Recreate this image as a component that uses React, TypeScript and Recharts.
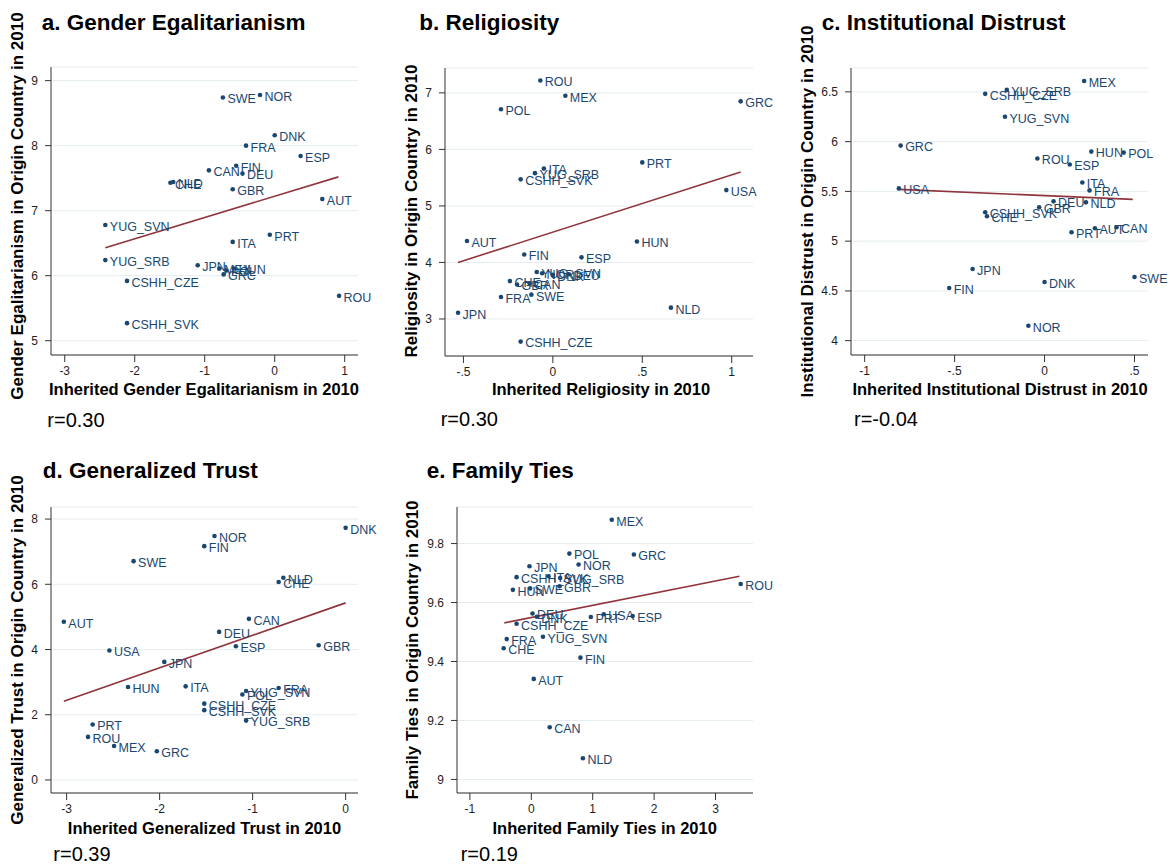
import React from "react";
import {
  ScatterChart,
  Scatter,
  XAxis,
  YAxis,
  CartesianGrid,
  ReferenceLine,
} from "recharts";

type Pt = { c: string; x: number; y: number };

// a. Gender egalitarianism
const genderEgal: Pt[] = [
  { c: "SWE", x: -0.74, y: 8.74 },
  { c: "NOR", x: -0.21, y: 8.78 },
  { c: "DNK", x: 0.0, y: 8.16 },
  { c: "FRA", x: -0.41, y: 8.0 },
  { c: "ESP", x: 0.37, y: 7.84 },
  { c: "FIN", x: -0.55, y: 7.69 },
  { c: "CAN", x: -0.94, y: 7.62 },
  { c: "DEU", x: -0.46, y: 7.57 },
  { c: "CHE", x: -1.49, y: 7.43 },
  { c: "NLD", x: -1.45, y: 7.44 },
  { c: "GBR", x: -0.6, y: 7.33 },
  { c: "AUT", x: 0.68, y: 7.18 },
  { c: "YUG_SVN", x: -2.42, y: 6.78 },
  { c: "PRT", x: -0.07, y: 6.63 },
  { c: "ITA", x: -0.6, y: 6.52 },
  { c: "YUG_SRB", x: -2.42, y: 6.24 },
  { c: "JPN", x: -1.1, y: 6.16 },
  { c: "MEX", x: -0.79, y: 6.11 },
  { c: "POL", x: -0.69, y: 6.08 },
  { c: "HUN", x: -0.58, y: 6.11 },
  { c: "GRC", x: -0.73, y: 6.02 },
  { c: "CSHH_CZE", x: -2.11, y: 5.92 },
  { c: "ROU", x: 0.92, y: 5.69 },
  { c: "CSHH_SVK", x: -2.11, y: 5.27 },
];
const fitGender = [{ x: -2.42, y: 6.43 }, { x: 0.91, y: 7.52 }];

// b. Religiosity
const religiosity: Pt[] = [
  { c: "ROU", x: -0.07, y: 7.22 },
  { c: "MEX", x: 0.07, y: 6.95 },
  { c: "GRC", x: 1.05, y: 6.85 },
  { c: "POL", x: -0.29, y: 6.71 },
  { c: "PRT", x: 0.5, y: 5.77 },
  { c: "ITA", x: -0.05, y: 5.66 },
  { c: "YUG_SRB", x: -0.1, y: 5.58 },
  { c: "CSHH_SVK", x: -0.18, y: 5.47 },
  { c: "USA", x: 0.97, y: 5.28 },
  { c: "AUT", x: -0.48, y: 4.38 },
  { c: "HUN", x: 0.47, y: 4.37 },
  { c: "FIN", x: -0.16, y: 4.14 },
  { c: "ESP", x: 0.16, y: 4.09 },
  { c: "YUG_SVN", x: -0.09, y: 3.83 },
  { c: "NOR", x: -0.06, y: 3.81 },
  { c: "DNK", x: 0.0, y: 3.78 },
  { c: "DEU", x: 0.09, y: 3.79 },
  { c: "CHE", x: -0.24, y: 3.67 },
  { c: "GBR", x: -0.2, y: 3.61 },
  { c: "CAN", x: -0.13, y: 3.63 },
  { c: "FRA", x: -0.29, y: 3.39 },
  { c: "SWE", x: -0.12, y: 3.43 },
  { c: "JPN", x: -0.53, y: 3.11 },
  { c: "NLD", x: 0.66, y: 3.2 },
  { c: "CSHH_CZE", x: -0.18, y: 2.6 },
];
const fitReligiosity = [{ x: -0.53, y: 4.0 }, { x: 1.05, y: 5.6 }];

// c. Institutional distrust
const distrust: Pt[] = [
  { c: "MEX", x: 0.22, y: 6.61 },
  { c: "YUG_SRB", x: -0.21, y: 6.52 },
  { c: "CSHH_CZE", x: -0.33, y: 6.48 },
  { c: "YUG_SVN", x: -0.22, y: 6.25 },
  { c: "GRC", x: -0.8, y: 5.96 },
  { c: "HUN", x: 0.26, y: 5.9 },
  { c: "POL", x: 0.44, y: 5.89 },
  { c: "ROU", x: -0.04, y: 5.83 },
  { c: "ESP", x: 0.14, y: 5.77 },
  { c: "ITA", x: 0.21, y: 5.59 },
  { c: "USA", x: -0.81, y: 5.53 },
  { c: "FRA", x: 0.25, y: 5.51 },
  { c: "DEU", x: 0.05, y: 5.4 },
  { c: "NLD", x: 0.23, y: 5.39 },
  { c: "GBR", x: -0.03, y: 5.34 },
  { c: "CSHH_SVK", x: -0.33, y: 5.29 },
  { c: "CHE", x: -0.32, y: 5.25 },
  { c: "AUT", x: 0.28, y: 5.13 },
  { c: "CAN", x: 0.4, y: 5.14 },
  { c: "PRT", x: 0.15, y: 5.09 },
  { c: "JPN", x: -0.4, y: 4.72 },
  { c: "SWE", x: 0.5, y: 4.64 },
  { c: "DNK", x: 0.0, y: 4.59 },
  { c: "FIN", x: -0.53, y: 4.53 },
  { c: "NOR", x: -0.09, y: 4.15 },
];
const fitDistrust = [{ x: -0.81, y: 5.52 }, { x: 0.49, y: 5.42 }];

// d. Generalized trust
const trust: Pt[] = [
  { c: "DNK", x: 0.0, y: 7.73 },
  { c: "NOR", x: -1.41, y: 7.48 },
  { c: "FIN", x: -1.52, y: 7.17 },
  { c: "SWE", x: -2.28, y: 6.71 },
  { c: "NLD", x: -0.67, y: 6.2 },
  { c: "CHE", x: -0.72, y: 6.07 },
  { c: "AUT", x: -3.03, y: 4.85 },
  { c: "CAN", x: -1.04, y: 4.94 },
  { c: "DEU", x: -1.36, y: 4.54 },
  { c: "GBR", x: -0.29, y: 4.13 },
  { c: "ESP", x: -1.18, y: 4.1 },
  { c: "USA", x: -2.54, y: 3.97 },
  { c: "JPN", x: -1.95, y: 3.62 },
  { c: "HUN", x: -2.34, y: 2.85 },
  { c: "ITA", x: -1.72, y: 2.87 },
  { c: "FRA", x: -0.72, y: 2.82 },
  { c: "YUG_SVN", x: -1.07, y: 2.73 },
  { c: "POL", x: -1.11, y: 2.62 },
  { c: "CSHH_CZE", x: -1.52, y: 2.34 },
  { c: "CSHH_SVK", x: -1.52, y: 2.14 },
  { c: "YUG_SRB", x: -1.07, y: 1.82 },
  { c: "PRT", x: -2.72, y: 1.7 },
  { c: "ROU", x: -2.77, y: 1.32 },
  { c: "MEX", x: -2.49, y: 1.04 },
  { c: "GRC", x: -2.03, y: 0.88 },
];
const fitTrust = [{ x: -3.03, y: 2.41 }, { x: 0.0, y: 5.43 }];

// e. Family ties
const family: Pt[] = [
  { c: "MEX", x: 1.31, y: 9.881 },
  { c: "POL", x: 0.62, y: 9.766 },
  { c: "GRC", x: 1.67, y: 9.763 },
  { c: "NOR", x: 0.77, y: 9.729 },
  { c: "JPN", x: -0.03, y: 9.723 },
  { c: "CSHH_SVK", x: -0.24, y: 9.686 },
  { c: "ITA", x: 0.28, y: 9.689 },
  { c: "YUG_SRB", x: 0.47, y: 9.683 },
  { c: "HUN", x: -0.3, y: 9.643 },
  { c: "SWE", x: -0.02, y: 9.648 },
  { c: "GBR", x: 0.46, y: 9.655 },
  { c: "ROU", x: 3.41, y: 9.663 },
  { c: "DEU", x: 0.02, y: 9.563 },
  { c: "DNK", x: 0.09, y: 9.552 },
  { c: "CSHH_CZE", x: -0.24, y: 9.528 },
  { c: "PRT", x: 0.97, y: 9.551 },
  { c: "USA", x: 1.18, y: 9.56 },
  { c: "ESP", x: 1.65, y: 9.554 },
  { c: "YUG_SVN", x: 0.19, y: 9.484 },
  { c: "FRA", x: -0.4, y: 9.476 },
  { c: "CHE", x: -0.45, y: 9.445 },
  { c: "FIN", x: 0.8, y: 9.413 },
  { c: "AUT", x: 0.04, y: 9.341 },
  { c: "CAN", x: 0.3, y: 9.177 },
  { c: "NLD", x: 0.84, y: 9.072 },
];
const fitFamily = [{ x: -0.44, y: 9.531 }, { x: 3.39, y: 9.689 }];

const NAVY = "#1a476f";
const MAROON = "#90353b";
const FONT = "'Liberation Sans', Arial, Helvetica, sans-serif";

// Stata style: drop the leading zero ("-.5", ".5")
const stataNum = (v: number) => String(v).replace(/^(-?)0\./, "$1.");

function CountryDot(props: any) {
  const { cx, cy, payload } = props;
  if (cx == null || cy == null) return <g />;
  return (
    <g>
      <circle cx={cx} cy={cy} r={2.3} fill={NAVY} />
      <text
        x={cx + 4.5}
        y={cy + 1.5}
        dy="0.35em"
        fontSize={12.5}
        fill={NAVY}
        fontFamily={FONT}
      >
        {payload.c}
      </text>
    </g>
  );
}

interface PanelProps {
  data: Pt[];
  fit: { x: number; y: number }[];
  xDomain: [number, number];
  yDomain: [number, number];
  xTicks: number[];
  yTicks: number[];
  box: { x0: number; y0: number; x1: number; y1: number };
}

function Panel({ data, fit, xDomain, yDomain, xTicks, yTicks, box }: PanelProps) {
  const yAxisW = 45;
  const mTop = 10;
  const mRight = 45;
  const xAxisH = 30;
  const left = box.x0 - yAxisW;
  const top = box.y0 - mTop;
  const width = box.x1 - left + mRight;
  const height = box.y1 - top + xAxisH;
  const tick = { fontSize: 12, fill: "#1e1e1e", fontFamily: FONT };
  return (
    <div style={{ position: "absolute", left, top }}>
      <ScatterChart
        width={width}
        height={height}
        margin={{ top: mTop, right: mRight, bottom: 0, left: 0 }}
      >
        <CartesianGrid vertical={false} stroke="#e4ecf0" />
        <XAxis
          type="number"
          dataKey="x"
          domain={xDomain}
          ticks={xTicks}
          interval={0}
          height={xAxisH}
          tickFormatter={stataNum}
          tick={tick}
          tickSize={7}
          tickMargin={4}
          stroke="#333"
        />
        <YAxis
          type="number"
          dataKey="y"
          domain={yDomain}
          ticks={yTicks}
          interval={0}
          width={yAxisW}
          tickFormatter={stataNum}
          tick={tick}
          tickSize={6}
          tickMargin={7}
          stroke="#333"
        />
        <Scatter data={data} shape={CountryDot} isAnimationActive={false} />
        <ReferenceLine
          segment={[fit[0], fit[1]]}
          stroke={MAROON}
          strokeWidth={1.6}
          ifOverflow="visible"
        />
      </ScatterChart>
    </div>
  );
}

const titles = [
  { t: "a. Gender Egalitarianism", x: 41.7, y: 30 },
  { t: "b. Religiosity", x: 419.3, y: 29.5 },
  { t: "c. Institutional Distrust", x: 821.7, y: 29.5 },
  { t: "d. Generalized Trust", x: 42.7, y: 477.7 },
  { t: "e. Family Ties", x: 426.7, y: 477.7 },
];
const xTitles = [
  { t: "Inherited Gender Egalitarianism in 2010", x: 204, y: 395 },
  { t: "Inherited Religiosity in 2010", x: 601, y: 395 },
  { t: "Inherited Institutional Distrust in 2010", x: 1000, y: 395 },
  { t: "Inherited Generalized Trust in 2010", x: 204.5, y: 834 },
  { t: "Inherited Family Ties in 2010", x: 604.7, y: 834 },
];
const yTitles = [
  { t: "Gender Egalitarianism in Origin Country in 2010", x: 22.7, y: 206 },
  { t: "Religiosity in Origin Country in 2010", x: 416.7, y: 211 },
  { t: "Institutional Distrust in Origin Country in 2010", x: 812.7, y: 211.5 },
  { t: "Generalized Trust in Origin Country in 2010", x: 22.7, y: 650 },
  { t: "Family Ties in Origin Country in 2010", x: 417.7, y: 650 },
];
const rValues = [
  { t: "r=0.30", x: 47.3, y: 427 },
  { t: "r=0.30", x: 440.7, y: 426 },
  { t: "r=-0.04", x: 854, y: 426 },
  { t: "r=0.39", x: 53.3, y: 860.5 },
  { t: "r=0.19", x: 460.7, y: 860.5 },
];

export default function App() {
  return (
    <div
      style={{
        position: "relative",
        width: 1170,
        height: 867,
        background: "#fff",
        overflow: "hidden",
        fontFamily: FONT,
      }}
    >
      <style>{`body{margin:0}`}</style>
      <Panel
        data={genderEgal}
        fit={fitGender}
        xDomain={[-3.196, 1.19]}
        yDomain={[4.78, 9.21]}
        xTicks={[-3, -2, -1, 0, 1]}
        yTicks={[5, 6, 7, 8, 9]}
        box={{ x0: 51, y0: 67, x1: 358, y1: 355 }}
      />
      <Panel
        data={religiosity}
        fit={fitReligiosity}
        xDomain={[-0.603, 1.119]}
        yDomain={[2.345, 7.44]}
        xTicks={[-0.5, 0, 0.5, 1]}
        yTicks={[3, 4, 5, 6, 7]}
        box={{ x0: 445, y0: 68, x1: 753, y1: 356 }}
      />
      <Panel
        data={distrust}
        fit={fitDistrust}
        xDomain={[-1.076, 0.575]}
        yDomain={[3.856, 6.74]}
        xTicks={[-1, -0.5, 0, 0.5]}
        yTicks={[4, 4.5, 5, 5.5, 6, 6.5]}
        box={{ x0: 851, y0: 68, x1: 1148, y1: 355 }}
      />
      <Panel
        data={trust}
        fit={fitTrust}
        xDomain={[-3.168, 0.133]}
        yDomain={[-0.4, 8.37]}
        xTicks={[-3, -2, -1, 0]}
        yTicks={[0, 2, 4, 6, 8]}
        box={{ x0: 51, y0: 507, x1: 358, y1: 793 }}
      />
      <Panel
        data={family}
        fit={fitFamily}
        xDomain={[-1.21, 3.61]}
        yDomain={[8.954, 9.924]}
        xTicks={[-1, 0, 1, 2, 3]}
        yTicks={[9, 9.2, 9.4, 9.6, 9.8]}
        box={{ x0: 457, y0: 507, x1: 753, y1: 793 }}
      />
      <svg
        width={1170}
        height={867}
        style={{ position: "absolute", left: 0, top: 0, pointerEvents: "none" }}
      >
        {titles.map((d) => (
          <text key={d.t} x={d.x} y={d.y} fontSize={22.5} fontWeight="bold" fill="#000" fontFamily={FONT}>
            {d.t}
          </text>
        ))}
        {xTitles.map((d) => (
          <text key={d.t} x={d.x} y={d.y} fontSize={16.5} fontWeight="bold" fill="#000" textAnchor="middle" fontFamily={FONT}>
            {d.t}
          </text>
        ))}
        {yTitles.map((d) => (
          <text
            key={d.t}
            transform={`translate(${d.x},${d.y}) rotate(-90)`}
            fontSize={17}
            fontWeight="bold"
            fill="#000"
            textAnchor="middle"
            fontFamily={FONT}
          >
            {d.t}
          </text>
        ))}
        {rValues.map((d, i) => (
          <text key={i} x={d.x} y={d.y} fontSize={20} fill="#000" fontFamily={FONT}>
            {d.t}
          </text>
        ))}
      </svg>
    </div>
  );
}
